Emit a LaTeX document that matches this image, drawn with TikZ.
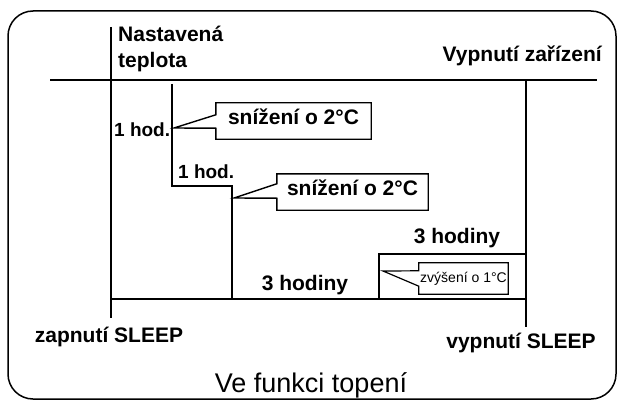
\documentclass[tikz,border=0pt]{standalone}
\usepackage{fontspec}
\setmainfont{Liberation Sans}
\usetikzlibrary{positioning,calc}

\begin{document}
\begin{tikzpicture}[x=1pt,y=-1pt,
  lbl/.style={font=\bfseries\fontsize{21}{24}\selectfont,inner sep=0pt},
  hod/.style={font=\bfseries\fontsize{19}{22}\selectfont,inner sep=0pt},
  axis/.style={line width=1.5pt},
  stair/.style={line width=2.6pt,line join=miter},
  bubble/.style={inner sep=0pt,text height=.72em,text depth=0pt,
    font=\bfseries\fontsize{21}{24}\selectfont}
  ]
  \useasboundingbox (0,0) rectangle (618,401);
  \draw[line width=1.5pt,rounded corners=25pt] (8,11) rectangle (616,399);

  % axes
  \coordinate (lt) at (111,27);  \coordinate (lb) at (111,318);
  \coordinate (tl) at (50,80);   \coordinate (tr) at (597,80);
  \coordinate (bl) at (111,299); \coordinate (br) at (526,299);
  \coordinate (rt) at (526,80);  \coordinate (rb) at (526,327);
  \draw[axis] (lt) -- (lb);
  \draw[axis] (tl) -- (tr);
  \draw[axis] (bl) -- (br);
  \draw[axis] (rt) -- (rb);

  % temperature steps
  \coordinate (s0) at (172,84);
  \coordinate (s1) at (172,186);
  \coordinate (s2) at (232,186);
  \coordinate (s3) at (232,299);
  \coordinate (s4) at (379,299);
  \coordinate (s5) at (379,254);
  \coordinate (s6) at (526,254);
  \draw[stair] (s0) -- (s1) -- (s2) -- (s3) -- (s4) -- (s5) -- (s6);

  % callouts
  \node[bubble,minimum width=155pt,minimum height=36pt] (down1) at (293.5,121) {snížení o 2°C};
  \coordinate (p1) at (174,128);
  \draw[line width=1.4pt] (down1.north west) -- (down1.north east) -- (down1.south east)
    -- (down1.south west) -- ($(down1.south west)+(0,-11)$) -- (p1)
    -- ($(down1.north west)+(0,12)$) -- cycle;

  \node[bubble,minimum width=151pt,minimum height=36pt] (down2) at (352.5,192) {snížení o 2°C};
  \coordinate (p2) at (234,198);
  \draw[line width=1.4pt] (down2.north west) -- (down2.north east) -- (down2.south east)
    -- (down2.south west) -- ($(down2.south west)+(0,-12)$) -- (p2)
    -- ($(down2.north west)+(0,10)$) -- cycle;

  \node[inner sep=0pt,text height=.72em,text depth=0pt,font=\fontsize{14}{16}\selectfont,
    minimum width=89pt,minimum height=31pt] (up1) at (463.5,278.5) {zvýšení o 1°C};
  \coordinate (p3) at (383,271);
  \draw[line width=1.2pt] (up1.north west) -- (up1.north east) -- (up1.south east)
    -- (up1.south west) -- ($(up1.south west)+(0,-8)$) -- (p3)
    -- ($(up1.north west)+(0,8)$) -- cycle;

  % labels
  \node[lbl,anchor=base west] (set1) at (118,42) {Nastavená};
  \node[lbl,anchor=base west] (set2) at (118,68) {teplota};
  \node[lbl,anchor=base east] (off) at (602,62) {Vypnutí zařízení};
  \node[hod,anchor=base west] (h1) at (114,136) {1 hod.};
  \node[hod,anchor=base west] (h2) at (178,178) {1 hod.};
  \node[lbl,anchor=base] (h3) at (457,243) {3 hodiny};
  \node[lbl,anchor=base] (h4) at (305,290) {3 hodiny};
  \node[lbl,anchor=base] (on) at (109,342) {zapnutí SLEEP};
  \node[lbl,anchor=base] (sleepoff) at (521,348) {vypnutí SLEEP};
  \node[inner sep=0pt,anchor=base,font=\fontsize{27}{30}\selectfont] (title) at (311,392) {Ve funkci topení};
\end{tikzpicture}
\end{document}
